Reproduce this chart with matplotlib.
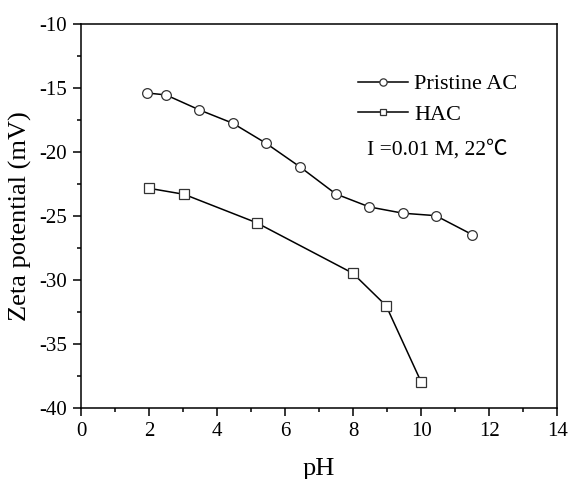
import numpy as np
import matplotlib
matplotlib.use('Agg')
import matplotlib.pyplot as plt
from matplotlib.ticker import MultipleLocator

plt.rcParams['font.family'] = ['Liberation Serif', 'DejaVu Serif']
plt.rcParams['axes.unicode_minus'] = False

# data
ph_ac = [1.95, 2.5, 3.48, 4.46, 5.44, 6.44, 7.49, 8.48, 9.47, 10.43, 11.5]
zeta_ac = [-15.4, -15.55, -16.72, -17.76, -19.33, -21.18, -23.29, -24.31, -24.8, -24.99, -26.47]
ph_hac = [2.0, 3.03, 5.16, 7.99, 8.97, 10.0]
zeta_hac = [-22.85, -23.32, -25.54, -29.49, -32.03, -37.99]

fig = plt.figure(figsize=(5.68, 4.79), dpi=100)
ax = fig.add_axes([0.1426, 0.149, 0.981 - 0.1426, 0.95 - 0.149])

ax.plot(ph_ac, zeta_ac, color='black', lw=1.1, marker='o', ms=7,
        mfc='white', mec='#333333', mew=0.9, label='Pristine AC')
ax.plot(ph_hac, zeta_hac, color='black', lw=1.1, marker='s', ms=6.5,
        mfc='white', mec='#333333', mew=0.9, label='HAC')

ax.set_xlim(0, 14)
ax.set_ylim(-40, -10)
ax.xaxis.set_major_locator(MultipleLocator(2))
ax.xaxis.set_minor_locator(MultipleLocator(1))
ax.yaxis.set_major_locator(MultipleLocator(5))
ax.yaxis.set_minor_locator(MultipleLocator(2.5))
ax.tick_params(which='both', direction='out', top=False, right=False, labelsize=15, width=1.1)
ax.tick_params(axis='y', which='major', pad=4.5)
ax.tick_params(axis='x', which='major', pad=4.5)
ax.tick_params(which='major', length=5.5)
ax.tick_params(which='minor', length=3)
for s in ax.spines.values():
    s.set_linewidth(1.1)

ax.set_xlabel('pH', fontsize=19)
ax.set_ylabel('Zeta potential (mV)', fontsize=19)
ax.xaxis.set_label_coords(0.5, -0.13)
ax.yaxis.set_label_coords(-0.103, 0.5)

leg = ax.legend(loc='upper left', bbox_to_anchor=(0.5816, 0.87), frameon=False,
                fontsize=16, handlelength=2.25, handletextpad=0.27, labelspacing=0.45,
                borderpad=0, borderaxespad=0, markerscale=0.75)
ax.text(0.6005, 0.672, 'I =0.01 M, 22\u2103', transform=ax.transAxes, fontsize=15.5,
        va='center', family=['Liberation Serif', 'Noto Sans CJK SC'])

fig.savefig('out.png', dpi=100)
